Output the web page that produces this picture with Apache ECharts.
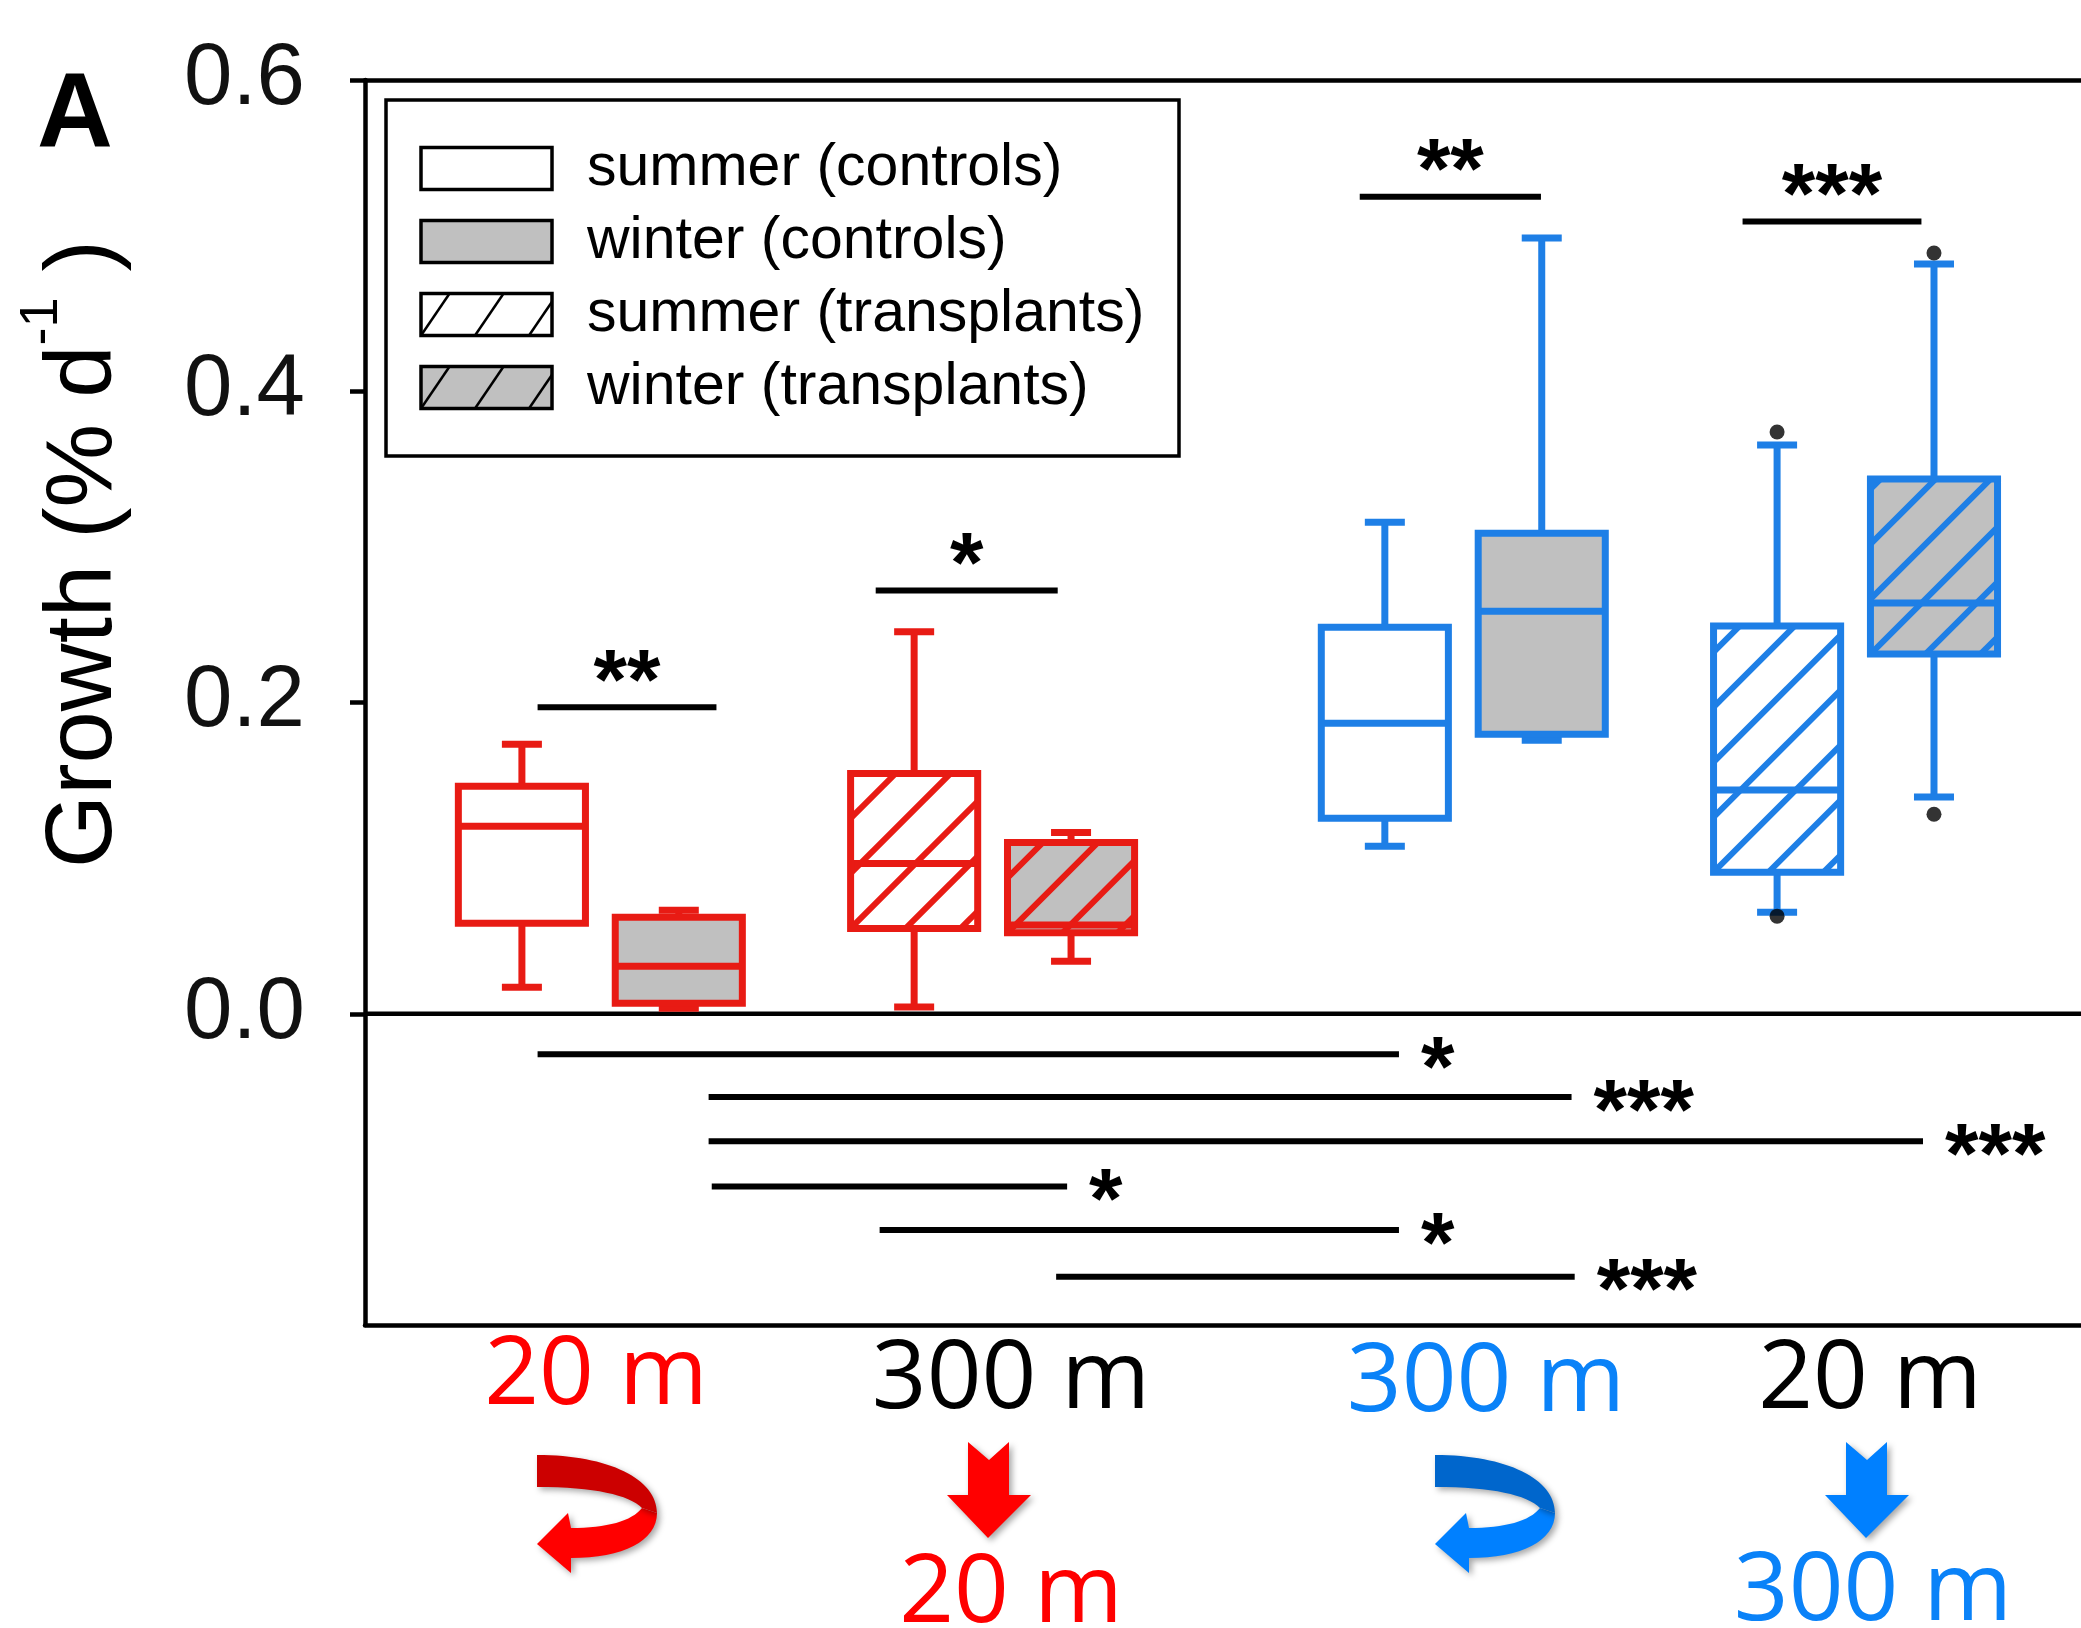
<!DOCTYPE html>
<html><head><meta charset="utf-8">
<script src="https://cdn.jsdelivr.net/npm/echarts@6/dist/echarts.min.js"></script>
<style>html,body{margin:0;padding:0;background:#fff}#c{width:2081px;height:1628px}</style>
</head><body><div id="c"></div>
<script>
// ---------------- data ----------------
const seriesNames = ['summer (controls)', 'winter (controls)', 'summer (transplants)', 'winter (transplants)'];
// each box: [min, Q1, median, Q3, max]; first = red site, second = blue site
const summerControls    = [[0.0170, 0.0582, 0.1205, 0.1462, 0.1732], [0.1077, 0.1257, 0.1867, 0.2484, 0.3159]];
const winterControls    = [[0.0035, 0.0067, 0.0305, 0.0620, 0.0665], [0.1758, 0.1796, 0.2587, 0.3088, 0.4985]];
const summerTransplants = [[0.0044, 0.0548, 0.0965, 0.1544, 0.2454], [0.0652, 0.0910, 0.1437, 0.2492, 0.3654]];
const winterTransplants = [[0.0337, 0.0520, 0.0570, 0.1100, 0.1165], [0.1392, 0.2311, 0.2639, 0.3436, 0.4817]];
const outlierValues = [0.3738, 0.0627, 0.4888, 0.1282];
const outlierSlots  = [18, 18, 20, 20];
const yTickValues = [0, 0.2, 0.4, 0.6];
const topSigFrom  = [2.20, 6.51, 12.68, 17.56];
const topSigTo    = [4.48, 8.83, 14.99, 19.84];
const topSigY     = [0.197, 0.272, 0.525, 0.509];
const topSigLabel = ['**', '*', '**', '***'];
const botSigFrom  = [2.20, 4.38, 4.38, 4.42, 6.56, 8.81];
const botSigTo    = [13.18, 15.38, 19.86, 8.95, 13.18, 15.42];
const botSigY     = [-0.026, -0.0535, -0.082, -0.111, -0.139, -0.169];
const botSigLabel = ['*', '***', '***', '*', '*', '***'];
const groupTopLabels = ['20 m', '300 m', '300 m', '20 m'];
const groupBottomLabels = ['20 m', '300 m'];

// ---------------- layout / style ----------------
const boxSlots = [[2, 13], [4, 15], [7, 18], [9, 20]];
const seriesData = [summerControls, winterControls, summerTransplants, winterTransplants];
const RED = '#e81b14', BLUE = '#1e7fe6', GRAY = '#c0c0c0';
const siteColors = [RED, BLUE];
const fills = ['#ffffff', GRAY, '#ffffff', GRAY];
const hatched = [false, false, true, true];
const BOX_W = 1.62, CAP_W = 0.51;
const X_MAX = 21.874;
const SANS = '"Liberation Sans", Arial, sans-serif';

function hatchLines(out, x0, y0, x1, y1, spacing, k, color, width) {
  const h = y1 - y0;
  const nMin = -Math.ceil(h * k / spacing) - 1, nMax = Math.ceil((x1 - x0) / spacing) + 1;
  for (let n = nMin; n <= nMax; n++) {
    const xb = x0 + n * spacing;
    const yTop = Math.max(y0, y1 - (x1 - xb) / k);
    const yBot = Math.min(y1, y1 - (x0 - xb) / k);
    if (yBot - yTop < 1) continue;
    out.push({ type: 'line', shape: { x1: xb + (y1 - yBot) * k, y1: yBot, x2: xb + (y1 - yTop) * k, y2: yTop },
      style: { stroke: color, lineWidth: width } });
  }
}

function makeBoxRender(sIdx) {
  return function (params, api) {
    const x = api.value(0);
    const c = v => api.coord([x, v]);
    const cx = c(api.value(3))[0];
    const unit = api.size([1, 0])[0];
    const hw = unit * BOX_W / 2, chw = unit * CAP_W / 2;
    const yMin = c(api.value(1))[1], yQ1 = c(api.value(2))[1], yMed = c(api.value(3))[1],
          yQ3 = c(api.value(4))[1], yMax = c(api.value(5))[1];
    const col = siteColors[params.dataIndex];
    const ls = () => ({ stroke: col, lineWidth: 7 });
    const ch = [];
    ch.push({ type: 'line', shape: { x1: cx, y1: yQ3, x2: cx, y2: yMax }, style: ls() });
    ch.push({ type: 'line', shape: { x1: cx, y1: yQ1, x2: cx, y2: yMin }, style: ls() });
    ch.push({ type: 'line', shape: { x1: cx - chw, y1: yMax, x2: cx + chw, y2: yMax }, style: ls() });
    ch.push({ type: 'line', shape: { x1: cx - chw, y1: yMin, x2: cx + chw, y2: yMin }, style: ls() });
    ch.push({ type: 'rect', shape: { x: cx - hw, y: yQ3, width: 2 * hw, height: yQ1 - yQ3 }, style: { fill: fills[sIdx] } });
    if (hatched[sIdx]) hatchLines(ch, cx - hw, yQ3, cx + hw, yQ1, 55, 1, col, 6);
    ch.push({ type: 'line', shape: { x1: cx - hw, y1: yMed, x2: cx + hw, y2: yMed }, style: ls() });
    ch.push({ type: 'rect', shape: { x: cx - hw, y: yQ3, width: 2 * hw, height: yQ1 - yQ3 },
      style: { fill: 'none', stroke: col, lineWidth: 7 } });
    return { type: 'group', children: ch };
  };
}

function makeSigRender(labels, isTop) {
  return function (params, api) {
    const p1 = api.coord([api.value(0), api.value(2)]);
    const p2 = api.coord([api.value(1), api.value(2)]);
    const ch = [{ type: 'line', shape: { x1: p1[0], y1: p1[1], x2: p2[0], y2: p2[1] },
      style: { stroke: '#000', lineWidth: 6 } }];
    const txt = labels[params.dataIndex];
    if (isTop) {
      ch.push({ type: 'text', x: (p1[0] + p2[0]) / 2, y: p1[1] - 22,
        style: { text: txt, fill: '#000', fontSize: 86, fontWeight: 'bold', fontFamily: SANS,
          align: 'center', verticalAlign: 'middle' } });
    } else {
      ch.push({ type: 'text', x: p2[0] + 22, y: p2[1] + 18,
        style: { text: txt, fill: '#000', fontSize: 86, fontWeight: 'bold', fontFamily: SANS,
          align: 'left', verticalAlign: 'middle' } });
    }
    return { type: 'group', children: ch };
  };
}

// arrows (decoration, drawn in pixel space)
const shadow = { shadowColor: 'rgba(0,0,0,0.35)', shadowBlur: 6, shadowOffsetX: 3, shadowOffsetY: 3 };
function curved(x, y, dark, light) {
  return { type: 'group', x: x, y: y, children: [
    { type: 'path', shape: { pathData: 'M120 58 C 120 86, 86 103, 34 103 L 34 118 L 0 89 L 31 58 L 34 73 C 70 73, 95 66, 105 53 Z' },
      style: Object.assign({ fill: light }, shadow) },
    { type: 'path', shape: { pathData: 'M0 0 C 72 0, 120 24, 120 58 L 105 53 C 92 40, 58 32, 0 32 Z' },
      style: Object.assign({ fill: dark }, shadow) }
  ] };
}
function straight(x, y, col) {
  return { type: 'path', x: x, y: y,
    shape: { pathData: 'M21 0 L42 18 L62 0 L62 53 L84 53 L41 96 L0 53 L21 53 Z' },
    style: Object.assign({ fill: col }, shadow) };
}

const series = [];
series.push({
  type: 'line', data: [[0, 0], [X_MAX, 0]], symbol: 'none', silent: true, z: 1,
  lineStyle: { color: '#000', width: 4.5 }
});
seriesData.forEach((boxes, sIdx) => {
  series.push({
    type: 'custom', name: seriesNames[sIdx], z: 3,
    data: boxes.map((b, i) => [boxSlots[sIdx][i]].concat(b)),
    encode: { x: 0, y: [1, 2, 3, 4, 5] },
    renderItem: makeBoxRender(sIdx)
  });
});
series.push({
  type: 'scatter', data: outlierSlots.map((s, i) => [s, outlierValues[i]]),
  symbolSize: 15, itemStyle: { color: '#000' }, z: 5, silent: true
});
series.push({
  type: 'custom', z: 4, silent: true,
  data: topSigFrom.map((f, i) => [f, topSigTo[i], topSigY[i]]),
  encode: { x: [0, 1], y: 2 }, renderItem: makeSigRender(topSigLabel, true)
});
series.push({
  type: 'custom', z: 4, silent: true,
  data: botSigFrom.map((f, i) => [f, botSigTo[i], botSigY[i]]),
  encode: { x: [0, 1], y: 2 }, renderItem: makeSigRender(botSigLabel, false)
});
series.push({
  type: 'custom', coordinateSystem: 'none', silent: true, z: 6,
  data: [[0]],
  renderItem: function () {
    return { type: 'group', children: [
      curved(537, 1455, '#cc0000', '#ff0000'),
      straight(947, 1442, '#ff0000'),
      curved(1435, 1455, '#0066cc', '#0080ff'),
      straight(1825, 1442, '#0080ff')
    ] };
  }
});

// ---------------- decorations (legend, labels) ----------------
const graphics = [];
graphics.push({ type: 'text', x: 37, y: 118, z: 20,
  style: { text: 'A', fontSize: 105, fontWeight: 'bold', fontFamily: SANS, fill: '#000', align: 'left', verticalAlign: 'middle' } });
graphics.push({ type: 'text', x: 85, y: 554, rotation: Math.PI / 2, z: 20,
  style: { text: '{a|Growth (% d}{s|-1}{a| )}', align: 'center', verticalAlign: 'middle', fill: '#000',
    rich: { a: { fontSize: 94, fontFamily: SANS, lineHeight: 140, fill: '#000' },
            s: { fontSize: 54, fontFamily: SANS, lineHeight: 54, verticalAlign: 'top', fill: '#000' } } } });
const lg = [];
lg.push({ type: 'rect', shape: { x: 386, y: 100, width: 793, height: 356 }, style: { fill: '#fff', stroke: '#000', lineWidth: 3.5 } });
const symY = [147.5, 220.5, 293.5, 366.5];
seriesNames.forEach((nm, i) => {
  lg.push({ type: 'rect', shape: { x: 421, y: symY[i], width: 131, height: 42 }, style: { fill: fills[i], stroke: 'none' } });
  if (hatched[i]) hatchLines(lg, 421, symY[i], 552, symY[i] + 42, 54, 0.68, '#000', 2.5);
  lg.push({ type: 'rect', shape: { x: 421, y: symY[i], width: 131, height: 42 }, style: { fill: 'none', stroke: '#000', lineWidth: 3.5 } });
  lg.push({ type: 'text', x: 587, y: symY[i] + 21, style: { text: nm, fontSize: 59, fontFamily: SANS, fill: '#000', align: 'left', verticalAlign: 'middle' } });
});
graphics.push({ type: 'group', z: 20, children: lg });
const XFONT = '"Open Sans", "Noto Sans", sans-serif';
const topLabelPos = [[596, 1377, '#ff0000'], [1011, 1381, '#000000'], [1486, 1384, '#0a82f8'], [1870, 1381, '#000000']];
groupTopLabels.forEach((t, i) => {
  graphics.push({ type: 'text', x: topLabelPos[i][0], y: topLabelPos[i][1], z: 20,
    style: { text: t, fontSize: 96, fontFamily: XFONT, fill: topLabelPos[i][2], align: 'center', verticalAlign: 'middle' } });
});
const botLabelPos = [[1011, 1595, '#ff0000'], [1873, 1593, '#0a82f8']];
groupBottomLabels.forEach((t, i) => {
  graphics.push({ type: 'text', x: botLabelPos[i][0], y: botLabelPos[i][1], z: 20,
    style: { text: t, fontSize: 96, fontFamily: XFONT, fill: botLabelPos[i][2], align: 'center', verticalAlign: 'middle' } });
});

const frameAxis = pos => ({
  type: 'value', position: pos, min: 0, max: X_MAX,
  axisLine: { show: true, onZero: false, lineStyle: { color: '#000', width: 4.5 } },
  axisTick: { show: false }, axisLabel: { show: false }, splitLine: { show: false }
});
const option = {
  animation: false,
  backgroundColor: '#fff',
  grid: { left: 365, top: 80, right: 0, height: 1245, show: false, outerBoundsMode: 'none' },
  xAxis: [frameAxis('bottom'), frameAxis('top')],
  yAxis: {
    type: 'value', min: -0.2, max: 0.6, interval: 0.2,
    axisLine: { show: true, onZero: false, lineStyle: { color: '#000', width: 4.5 } },
    axisTick: { show: true, inside: false, length: 15, lineStyle: { color: '#000', width: 4.5 }, customValues: yTickValues },
    axisLabel: { show: true, customValues: yTickValues, margin: 60, fontSize: 87, fontFamily: SANS, color: '#111',
      formatter: v => (v < -0.01 ? '' : Number(v).toFixed(1)) },
    splitLine: { show: false }
  },
  graphic: graphics,
  series: series
};
const chart = echarts.init(document.getElementById('c'), null, { renderer: 'canvas' });
chart.setOption(option);
</script></body></html>
